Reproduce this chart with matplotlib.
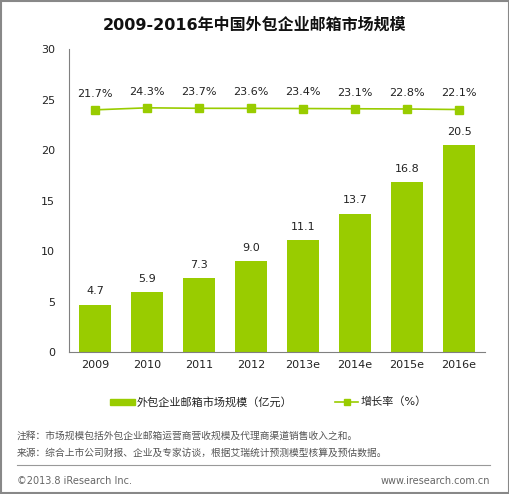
import matplotlib.pyplot as plt
from matplotlib.lines import Line2D
from matplotlib.patches import Rectangle

plt.rcParams['font.family'] = ['DejaVu Sans', 'Noto Sans CJK SC']

# data
years = ['2009', '2010', '2011', '2012', '2013e', '2014e', '2015e', '2016e']
market = [4.7, 5.9, 7.3, 9.0, 11.1, 13.7, 16.8, 20.5]
growth = [21.7, 24.3, 23.7, 23.6, 23.4, 23.1, 22.8, 22.1]

green = '#99CC00'
grey = '#808080'

fig = plt.figure(figsize=(5.1, 4.94), dpi=100)
ax = fig.add_axes([0.1353, 0.2874, 0.8157, 0.6134])

x = range(len(years))
ax.bar(x, market, width=0.62, color=green, zorder=2)
for i, v in enumerate(market):
    ax.annotate(f'{v:.1f}', (i, v), xytext=(0, 6), textcoords='offset points',
                ha='center', va='bottom', fontsize=8, color='#222222')

ax.set_ylim(0, 30)
ax.set_xlim(-0.5, len(years) - 0.5)
ax.set_yticks(range(0, 31, 5))
ax.set_xticks(list(x))
ax.set_xticklabels(years)
ax.tick_params(length=0, labelsize=8, colors='#222222')
ax.tick_params(axis='y', pad=10)
ax.tick_params(axis='x', pad=6)
for s in ['top', 'right']:
    ax.spines[s].set_visible(False)
for s in ['left', 'bottom']:
    ax.spines[s].set_color(grey)

# growth line on a hidden secondary axis
ax2 = ax.twinx()
ax2.plot(list(x), growth, color=green, marker='s', markersize=6, linewidth=1.2, zorder=3)
ax2.set_ylim(-290, 100)
ax2.axis('off')
for i, v in enumerate(growth):
    ax2.annotate(f'{v:.1f}%', (i, v), xytext=(0, 8), textcoords='offset points',
                 ha='center', va='bottom', fontsize=8, color='#222222')

fig.text(0.5, 0.949, '2009-2016年中国外包企业邮箱市场规模', ha='center', va='center',
         fontsize=11.5, fontweight='bold', color='#111111')

# legend drawn by hand
ly = 1 - 402 / 494
fig.patches.append(Rectangle((110 / 510, ly - 3 / 494), 25 / 510, 6 / 494,
                             transform=fig.transFigure, color=green))
fig.text(137 / 510, ly, '外包企业邮箱市场规模（亿元）', ha='left', va='center',
         fontsize=8, color='#222222')
fig.lines.append(Line2D([335 / 510, 358 / 510], [ly, ly], transform=fig.transFigure,
                        color=green, linewidth=1.2))
fig.lines.append(Line2D([346.5 / 510], [ly], transform=fig.transFigure,
                        color=green, marker='s', markersize=5, linestyle='none'))
fig.text(361 / 510, ly, '增长率（%）', ha='left', va='center',
         fontsize=8, color='#222222')

# footer notes
fig.text(17 / 510, 1 - 436 / 494, '注释：市场规模包括外包企业邮箱运营商营收规模及代理商渠道销售收入之和。',
         ha='left', va='center', fontsize=7, color='#555555')
fig.text(17 / 510, 1 - 453 / 494, '来源：综合上市公司财报、企业及专家访谈，根据艾瑞统计预测模型核算及预估数据。',
         ha='left', va='center', fontsize=7, color='#555555')
fig.lines.append(Line2D([17 / 510, 490 / 510], [1 - 465 / 494] * 2, transform=fig.transFigure,
                        color='#999999', linewidth=0.8))
fig.text(17 / 510, 1 - 481 / 494, '©2013.8 iResearch Inc.', ha='left', va='center',
         fontsize=7, color='#666666')
fig.text(490 / 510, 1 - 481 / 494, 'www.iresearch.com.cn', ha='right', va='center',
         fontsize=7, color='#666666')

# outer border
fig.patches.append(Rectangle((0.002, 0.002), 0.996, 0.996, transform=fig.transFigure,
                             fill=False, edgecolor='#888888', linewidth=1.5))

fig.savefig('out.png', dpi=100)
